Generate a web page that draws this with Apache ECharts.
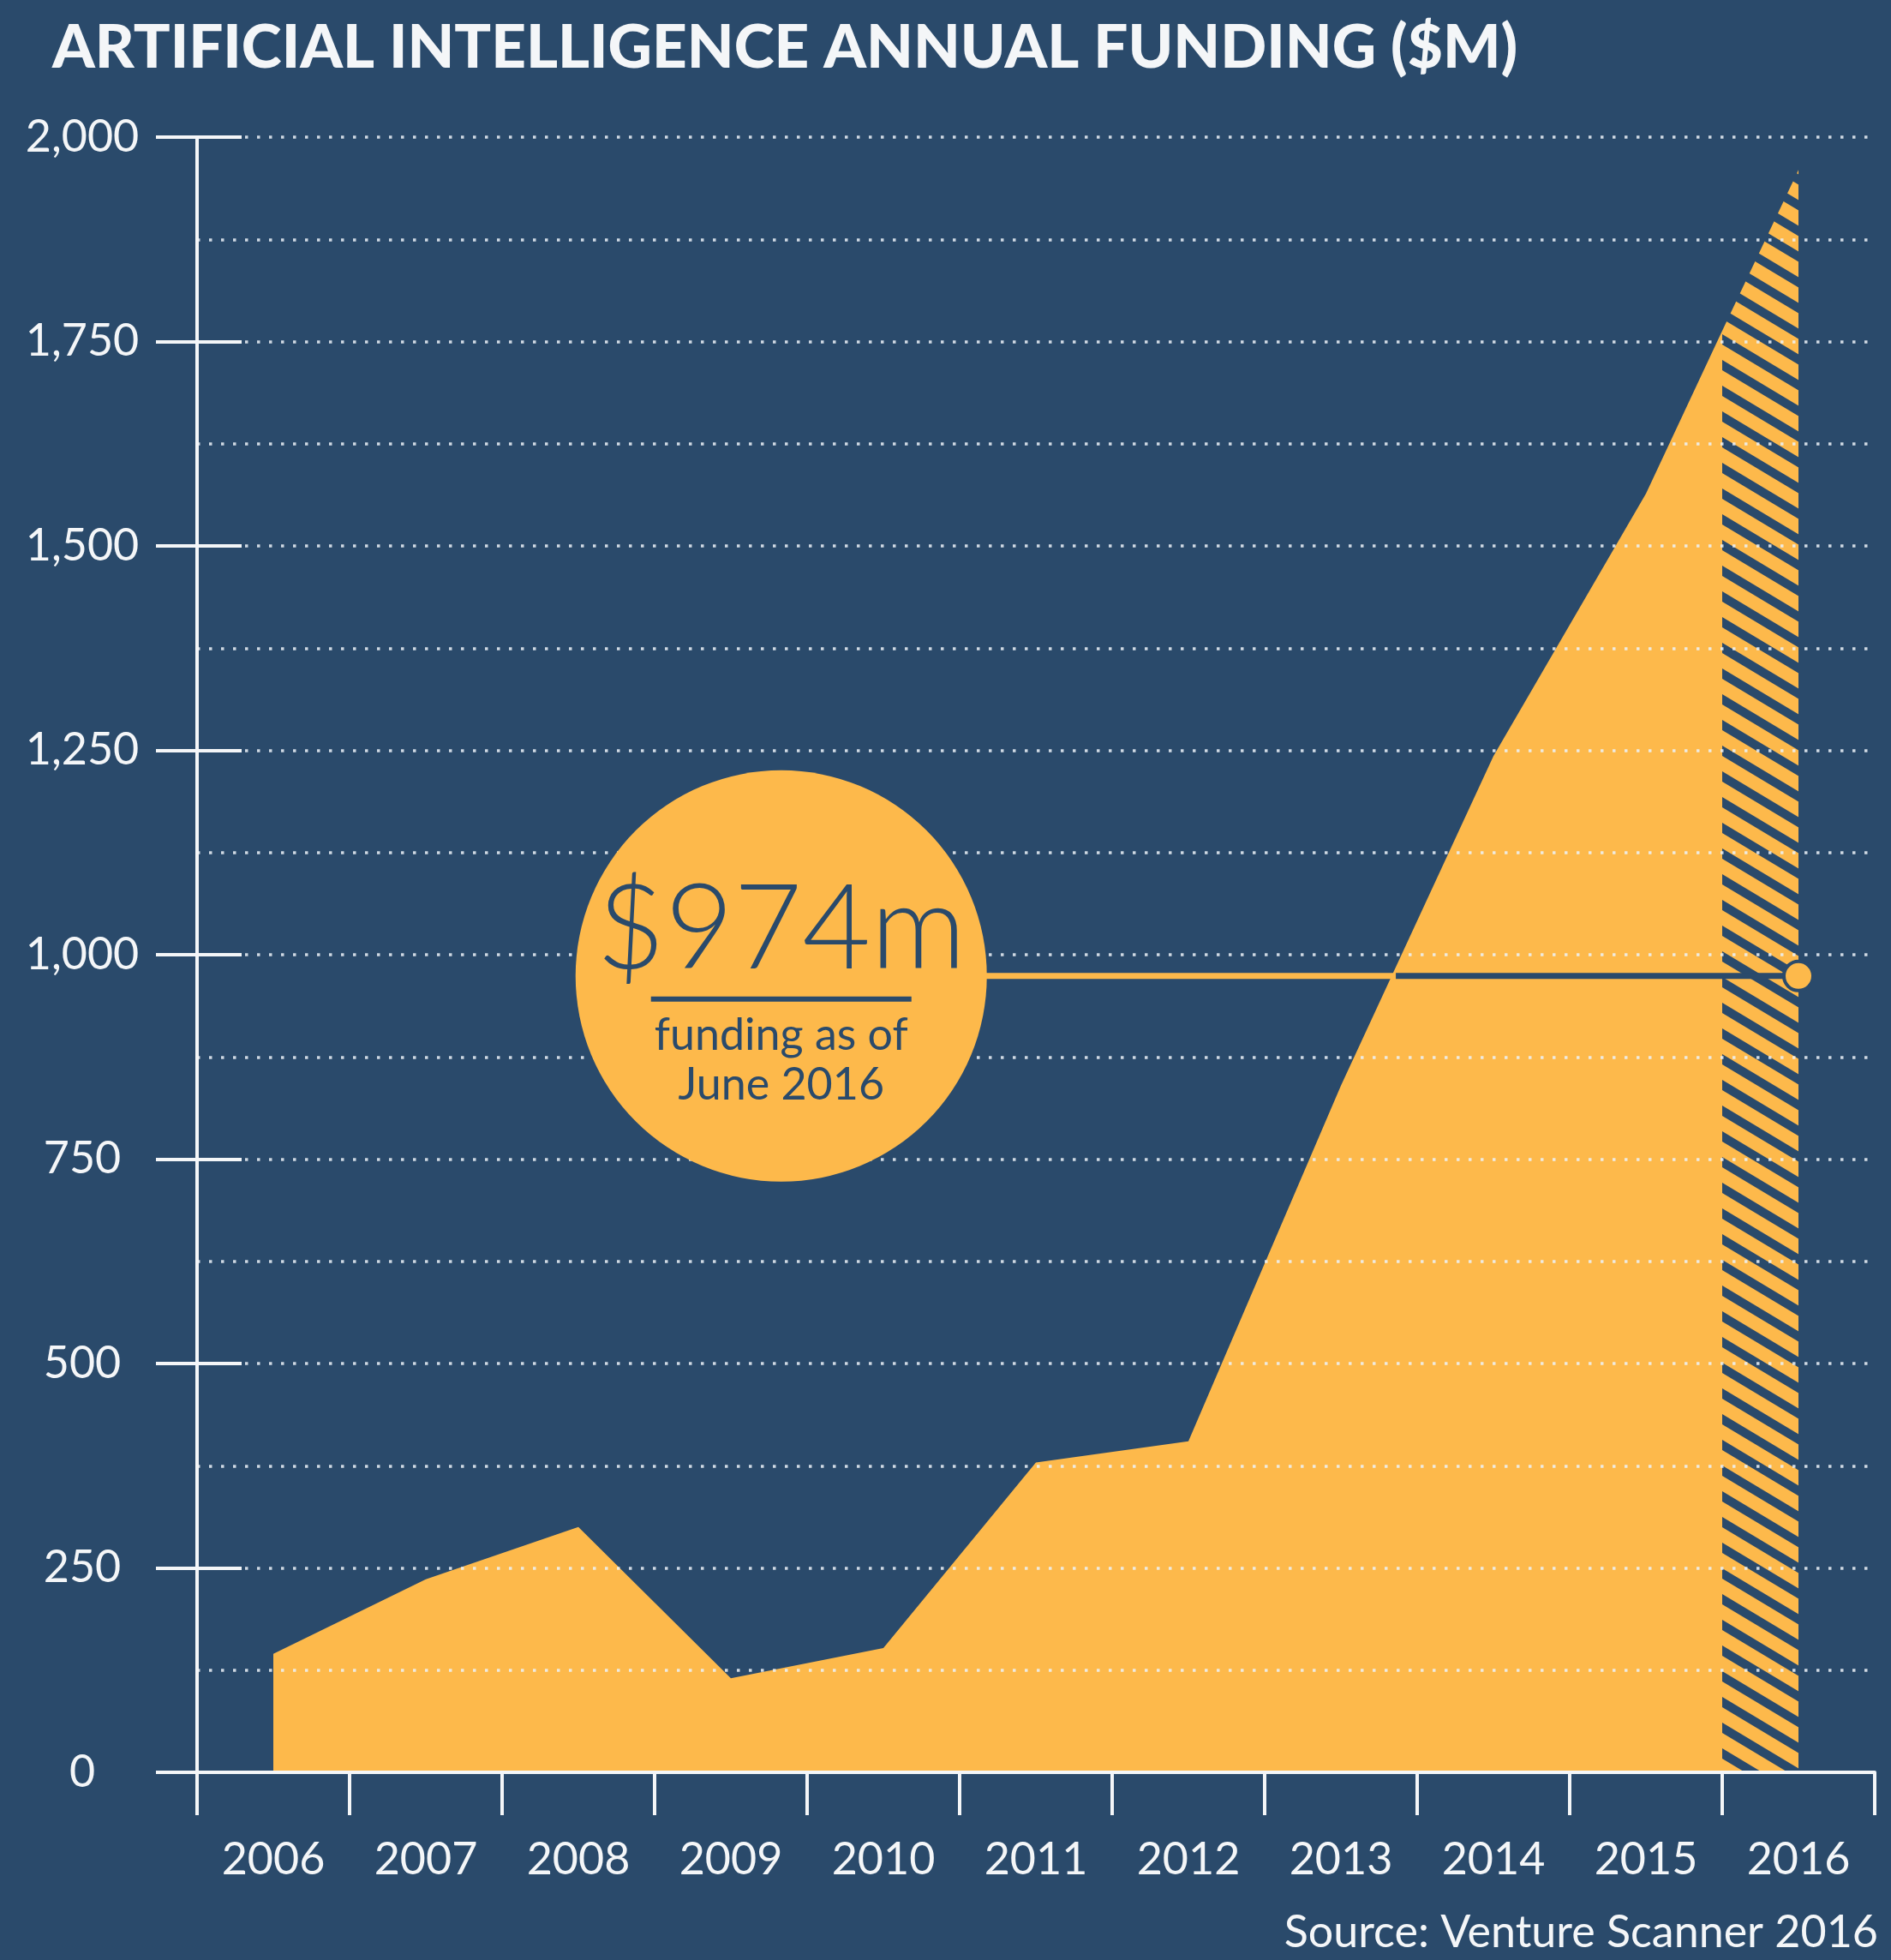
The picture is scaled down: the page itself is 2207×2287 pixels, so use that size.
<!DOCTYPE html>
<html>
<head>
<meta charset="utf-8">
<title>Artificial Intelligence Annual Funding ($M)</title>
<script src="https://cdn.jsdelivr.net/npm/echarts@6/dist/echarts.min.js"></script>
<style>
  html, body { margin: 0; padding: 0; background: #2a4a6b; }
  #chart { width: 2207px; height: 2287px; }
</style>
</head>
<body>
<div id="chart"></div>
<script>
const years = ["2006", "2007", "2008", "2009", "2010", "2011", "2012", "2013", "2014", "2015", "2016"];
// annual funding in $M at each year's centre; the last point is the 2015/2016 boundary
const funding = [[2006, 145], [2007, 236], [2008, 300], [2009, 115], [2010, 152], [2011, 379],
  [2012, 405], [2013, 840], [2014, 1243], [2015, 1564], [2015.5, 1763]];
// projected part of 2016 (hatched)
const projected = [[2015.5, 1763], [2016, 1960]];
const juneFunding = 974;
const calloutAt = 2009.33;   // centre of the big circle, on the year scale
const areaCrossing = 2013.36; // where the 974 line meets the area edge
const yMax = 2000, yStep = 250;

const navy = "#2a4a6b";
const orange = "#fdb94b";
const white = "#f4f6f8";
const dots = "rgba(236,242,248,0.85)";

// diagonal stripes for the projected 2016 slice
function stripes() {
  const w = 50, h = 30, t = 12;
  const c = document.createElement("canvas");
  c.width = w; c.height = h;
  const g = c.getContext("2d");
  g.fillStyle = orange;
  g.fillRect(0, 0, w, h);
  g.fillStyle = navy;
  for (const dy of [-h, 0, h]) {
    g.beginPath();
    g.moveTo(0, dy - t / 2);
    g.lineTo(w, dy + h - t / 2);
    g.lineTo(w, dy + h + t / 2);
    g.lineTo(0, dy + t / 2);
    g.closePath();
    g.fill();
  }
  return c;
}

const gridDots = { color: dots, width: 3.5, type: [3.5, 10.5] };

const chart = echarts.init(document.getElementById("chart"), null, { renderer: "canvas" });
chart.setOption({
  animation: false,
  backgroundColor: navy,
  textStyle: { fontFamily: "Lato" },
  title: {
    text: "ARTIFICIAL INTELLIGENCE ANNUAL FUNDING ($M)",
    left: 56, top: 16,
    textStyle: { color: white, fontFamily: "Lato", fontWeight: 900, fontSize: 71 },
  },
  graphic: [{
    type: "text", right: 15, bottom: 6,
    style: { text: "Source: Venture Scanner 2016", fill: white, fontFamily: "Lato", fontSize: 52 },
  }],
  grid: { left: 230, right: 19, top: 160, bottom: 219 },
  xAxis: [
    {
      type: "category",
      data: years,
      boundaryGap: true,
      z: 3,
      axisLine: { show: true, lineStyle: { color: white, width: 4 } },
      axisTick: { show: true, length: 50, lineStyle: { color: white, width: 4 } },
      axisLabel: { color: white, fontSize: 52, margin: 76, fontFamily: "Lato" },
      splitLine: { show: false },
    },
    { type: "value", min: 2005.5, max: 2016.5, show: false },
  ],
  yAxis: [
    {
      type: "value", position: "left", min: 0, max: yMax, interval: yStep, z: 3,
      axisLine: { show: true, lineStyle: { color: white, width: 4 } },
      axisTick: { show: true, length: 48, lineStyle: { color: white, width: 4 } },
      axisLabel: {
        color: white, fontSize: 52, margin: 134, align: "center", fontFamily: "Lato",
        formatter: (v) => v.toLocaleString("en-US"),
      },
      splitLine: { show: true, lineStyle: gridDots },
      minorTick: { show: false, splitNumber: 2 },
      minorSplitLine: { show: true, lineStyle: gridDots },
    },
    {
      type: "value", position: "left", offset: 0, min: 0, max: yMax, interval: yStep, z: 3,
      axisLine: { show: false },
      axisTick: { show: true, inside: true, length: 52, lineStyle: { color: white, width: 4 } },
      axisLabel: { show: false },
      splitLine: { show: false },
    },
  ],
  series: [
    {
      type: "line", xAxisIndex: 1, yAxisIndex: 0, z: 2,
      data: funding, symbol: "none",
      lineStyle: { width: 0 },
      areaStyle: { color: orange, opacity: 1 },
    },
    {
      type: "line", xAxisIndex: 1, yAxisIndex: 0, z: 2,
      data: projected, symbol: "none",
      lineStyle: { width: 0 },
      areaStyle: { color: { image: stripes(), repeat: "repeat" }, opacity: 1 },
    },
    {
      type: "line", xAxisIndex: 1, yAxisIndex: 0, z: 4,
      data: [[calloutAt, juneFunding], [areaCrossing, juneFunding]], symbol: "none",
      lineStyle: { color: orange, width: 7 },
    },
    {
      type: "line", xAxisIndex: 1, yAxisIndex: 0, z: 4,
      data: [[areaCrossing, juneFunding], [2016, juneFunding]], symbol: "none",
      lineStyle: { color: navy, width: 7 },
    },
    {
      type: "scatter", xAxisIndex: 1, yAxisIndex: 0, z: 5,
      data: [[2016, juneFunding]], symbolSize: 34,
      itemStyle: { color: orange, borderColor: navy, borderWidth: 4, opacity: 1 },
    },
    {
      type: "scatter", xAxisIndex: 1, yAxisIndex: 0, z: 6,
      data: [[calloutAt, juneFunding]], symbolSize: 480,
      itemStyle: { color: orange, opacity: 1 },
      label: {
        show: true, position: "inside", offset: [0, 18],
        formatter: "{big|$974m}\n{rule|}\n{small|funding as of}\n{small|June 2016}",
        rich: {
          big: { fontSize: 138, fontWeight: 300, fontFamily: "Lato", color: navy, lineHeight: 134, align: "center" },
          rule: { width: 304, height: 6, backgroundColor: navy, align: "center", lineHeight: 26 },
          small: { fontSize: 52, fontFamily: "Lato", color: navy, lineHeight: 58, align: "center" },
        },
      },
    },
  ],
});
</script>
</body>
</html>
